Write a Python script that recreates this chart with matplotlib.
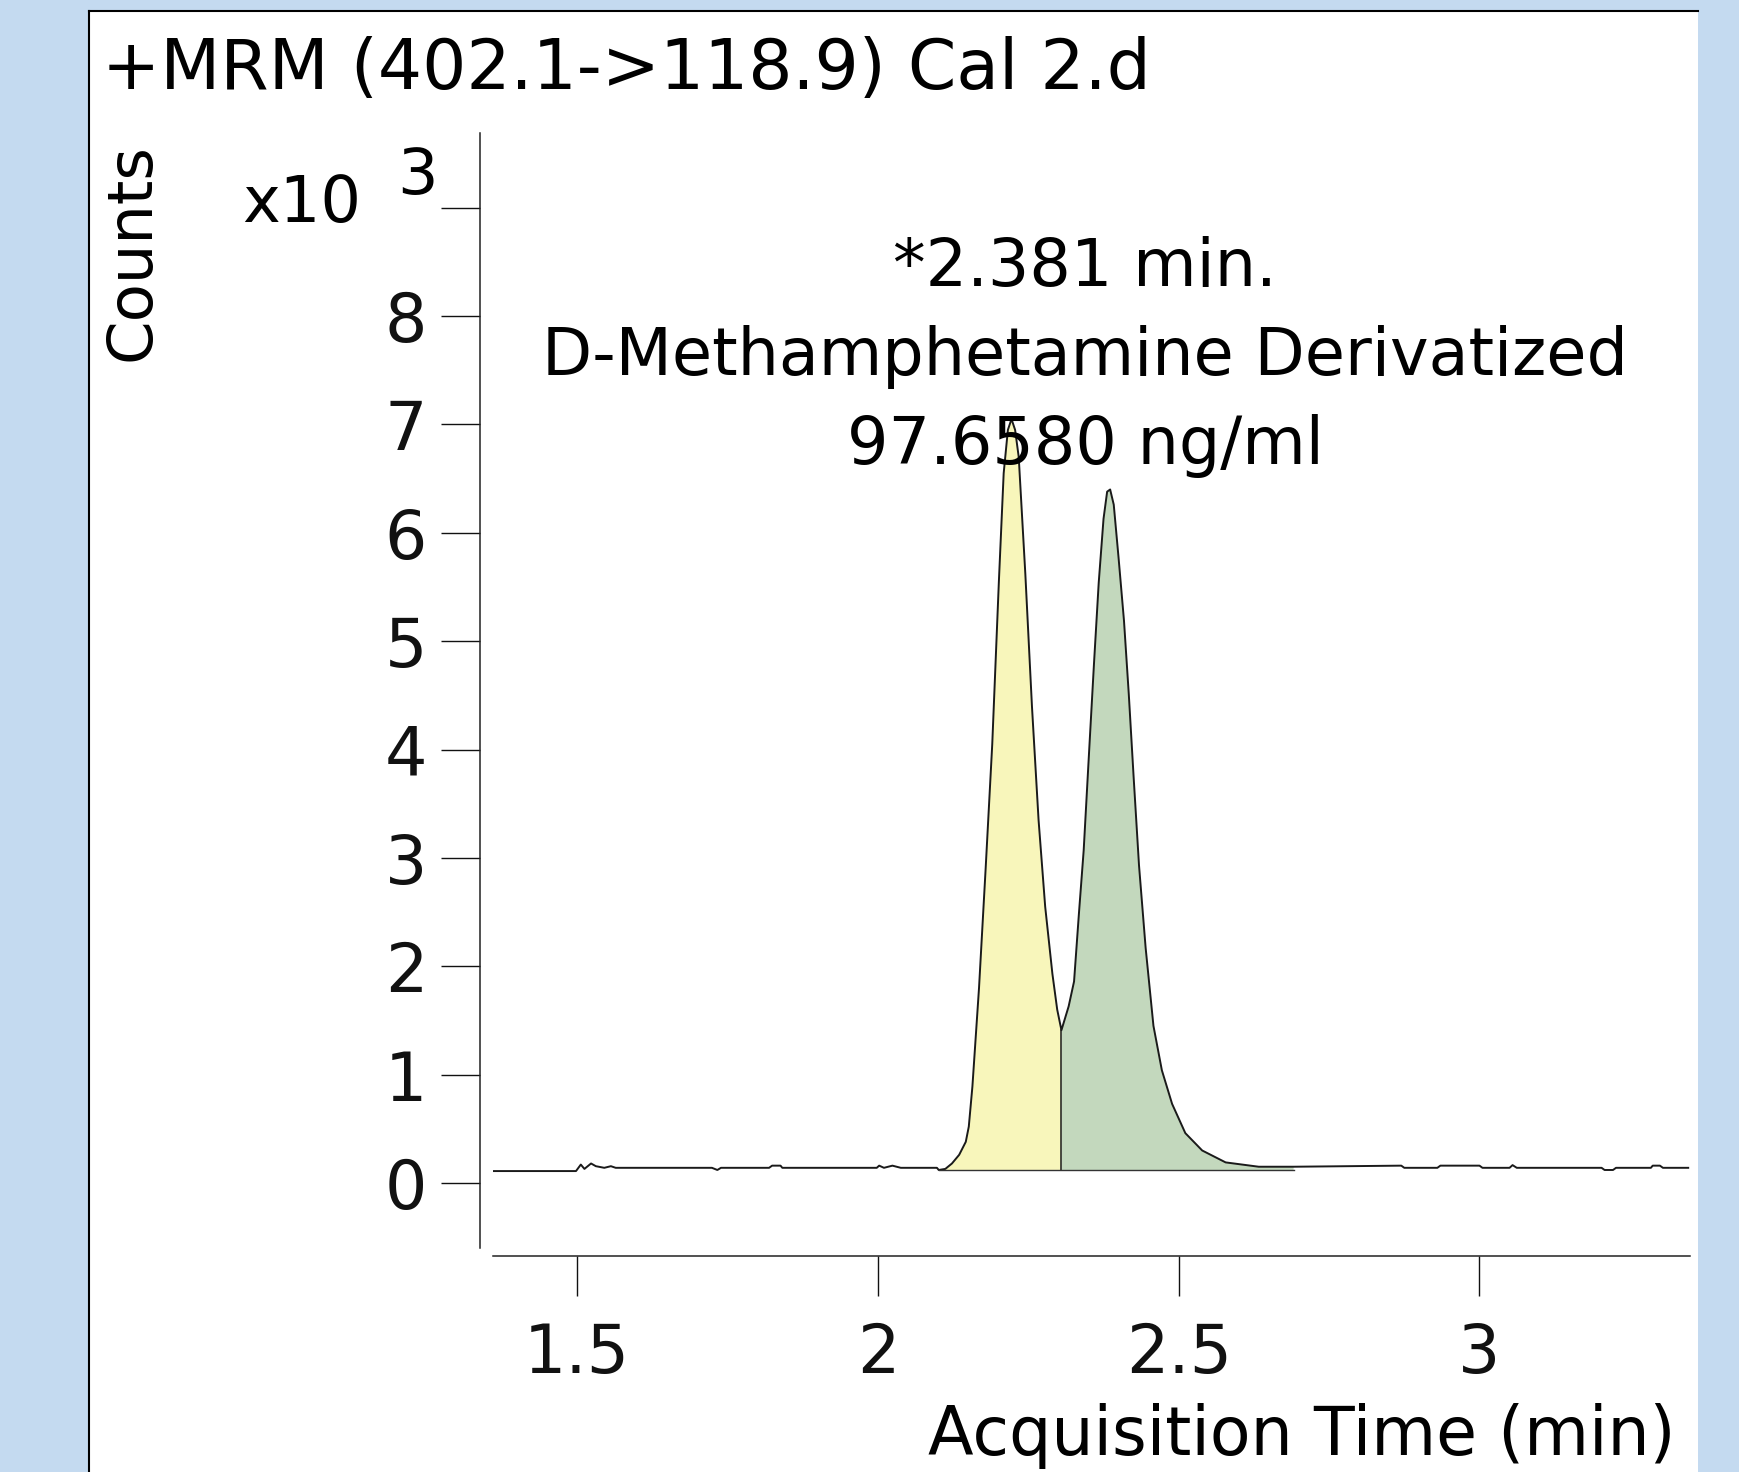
import numpy as np
import matplotlib
matplotlib.use("Agg")
import matplotlib.pyplot as plt
from matplotlib.patches import Rectangle
from matplotlib.lines import Line2D

# Chromatogram trace: time (min) vs counts (x10^3)
time_min = [
    1.354, 1.498, 1.506, 1.512, 1.523, 1.531, 1.545, 1.556, 1.564, 1.724,
    1.733, 1.739, 1.819, 1.824, 1.838, 1.841, 1.998, 2.002, 2.010, 2.024,
    2.038, 2.098, 2.101,
    # first (yellow) peak
    2.112, 2.123, 2.135, 2.146, 2.151, 2.157, 2.168, 2.179, 2.190, 2.201,
    2.209, 2.216, 2.222, 2.228, 2.234, 2.245, 2.256, 2.267, 2.278, 2.290,
    2.298, 2.305,
    # second (green) peak
    2.317, 2.326, 2.334, 2.342, 2.350, 2.359, 2.367, 2.375, 2.381, 2.386,
    2.392, 2.400, 2.409, 2.417, 2.425, 2.434, 2.445, 2.458, 2.472, 2.489,
    2.511, 2.539, 2.578, 2.633, 2.691,
    # tail baseline
    2.870, 2.875, 2.930, 2.935, 3.000, 3.005, 3.050, 3.055, 3.062, 3.203,
    3.208, 3.222, 3.227, 3.285, 3.288, 3.300, 3.305, 3.347,
]
counts_k = [
    0.11, 0.11, 0.17, 0.13, 0.18, 0.155, 0.14, 0.155, 0.14, 0.14,
    0.12, 0.14, 0.14, 0.16, 0.16, 0.14, 0.14, 0.16, 0.14, 0.16,
    0.14, 0.14, 0.12,
    0.13, 0.18, 0.26, 0.38, 0.52, 0.89, 1.80, 2.90, 4.05, 5.55,
    6.55, 6.95, 7.05, 6.95, 6.70, 5.62, 4.40, 3.35, 2.55, 1.93,
    1.60, 1.41,
    1.63, 1.86, 2.48, 3.07, 3.88, 4.78, 5.54, 6.13, 6.38, 6.40,
    6.26, 5.77, 5.19, 4.51, 3.75, 2.93, 2.17, 1.45, 1.04, 0.73,
    0.46, 0.30, 0.19, 0.15, 0.15,
    0.16, 0.14, 0.14, 0.16, 0.16, 0.14, 0.14, 0.165, 0.14, 0.14,
    0.12, 0.12, 0.14, 0.14, 0.16, 0.16, 0.14, 0.14,
]

# integration limits of the two peaks
yellow_start = 2.101
valley_time = 2.305
green_end = 2.691
fill_floor = 0.12

x_ticks = [1.5, 2, 2.5, 3]
x_tick_labels = ["1.5", "2", "2.5", "3"]
y_ticks = [0, 1, 2, 3, 4, 5, 6, 7, 8, 9]
y_tick_labels = ["0", "1", "2", "3", "4", "5", "6", "7", "8", ""]

title = "+MRM (402.1->118.9) Cal 2.d"
peak_lines = ["*2.381 min.", "D-Methamphetamine Derivatized", "97.6580 ng/ml"]

W, H = 1740, 1472


def fx(px):
    return px / W


def fy(py):
    return 1 - py / H


plt.rcParams["font.family"] = ["DejaVu Sans"]

fig = plt.figure(figsize=(W / 100, H / 100), dpi=100, facecolor="#c4daf0")

# white slide panel with black top/left edge
fig.patches.append(Rectangle((fx(89), 0), fx(1698 - 89), (H - 11) / H,
                             transform=fig.transFigure, facecolor="white",
                             edgecolor="none", zorder=-5))
fig.add_artist(Line2D([fx(89), fx(1698)], [fy(11), fy(11)], color="black", lw=1.5, zorder=-4))
fig.add_artist(Line2D([fx(89), fx(89)], [0, fy(11)], color="black", lw=1.5, zorder=-4))

ax = fig.add_axes([fx(493), fy(1248), fx(1690 - 493), (1248 - 133) / H])
ax.set_zorder(2)
ax.patch.set_alpha(0)

t = np.array(time_min)
c = np.array(counts_k)

ax.fill_between(t, fill_floor, c, where=(t >= yellow_start) & (t <= valley_time),
                facecolor="#f8f6bb", lw=0)
ax.fill_between(t, fill_floor, c, where=(t >= valley_time) & (t <= green_end),
                facecolor="#c3d8bd", lw=0)
ax.plot(t, c, color="#1a1a1a", lw=1.4)
ax.plot([valley_time, valley_time], [fill_floor, 1.41], color="#1a1a1a", lw=1.1)
ax.plot([yellow_start, green_end], [fill_floor, fill_floor], color="#333333", lw=1.0)

ax.set_xlim(1.36, 3.35)
ax.set_ylim(-0.6, 9.69)
ax.set_xticks(x_ticks)
ax.set_xticklabels(x_tick_labels)
ax.set_yticks(y_ticks)
ax.set_yticklabels(y_tick_labels)

for side in ["top", "right"]:
    ax.spines[side].set_visible(False)
ax.spines["left"].set_position(("outward", 9.4))
ax.spines["bottom"].set_position(("outward", 5.8))
for side in ["left", "bottom"]:
    ax.spines[side].set_linewidth(1.1)
    ax.spines[side].set_color("#222222")

ax.tick_params(axis="x", direction="out", length=29, width=1.0, pad=18,
               labelsize=48, colors="#111111")
ax.tick_params(axis="y", direction="out", length=28, width=1.0, pad=10,
               labelsize=48, colors="#111111")

# texts
fig.text(fx(102), fy(89), title, fontsize=50, ha="left", va="baseline")
fig.text(fx(133), fy(252), "Counts", fontsize=45, rotation=90, ha="center", va="center")
fig.text(fx(242), fy(222), "x10", fontsize=46, ha="left", va="baseline")
fig.text(fx(397), fy(194), "3", fontsize=46, ha="left", va="baseline")
for line, base in zip(peak_lines, [286, 375, 464]):
    fig.text(fx(1085), fy(base), line, fontsize=47, ha="center", va="baseline")
fig.text(fx(1676), fy(1455), "Acquisition Time (min)", fontsize=48, ha="right", va="baseline")

fig.savefig("out.png", dpi=100, facecolor=fig.get_facecolor())
